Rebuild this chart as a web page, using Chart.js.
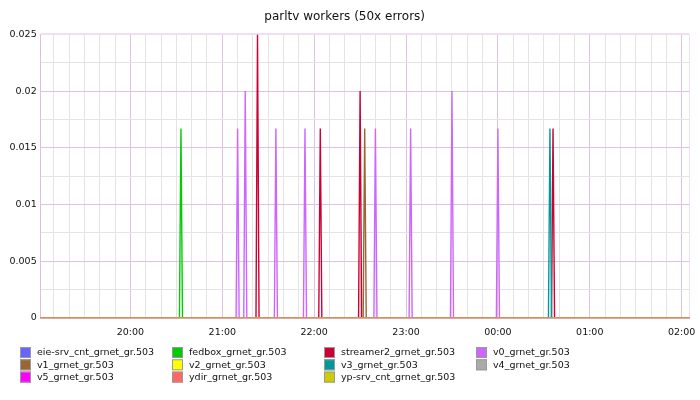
<!DOCTYPE html>
<html>
<head>
<meta charset="utf-8">
<title>parltv workers (50x errors)</title>
<script src="https://cdn.jsdelivr.net/npm/chart.js@4.4.1/dist/chart.umd.min.js"></script>
<style>
    html, body { margin: 0; padding: 0; background: #fff; }
    #wrap { width: 700px; height: 400px; }
</style>
</head>
<body>
<div id="wrap"><canvas id="workers_Chart" width="700" height="400"></canvas></div>
<script>
// series names (legend order)
const seriesNames = [
    'eie-srv_cnt_grnet_gr.503', 'fedbox_grnet_gr.503', 'streamer2_grnet_gr.503', 'v0_grnet_gr.503',
    'v1_grnet_gr.503', 'v2_grnet_gr.503', 'v3_grnet_gr.503', 'v4_grnet_gr.503',
    'v5_grnet_gr.503', 'ydir_grnet_gr.503', 'yp-srv_cnt_grnet_gr.503'
];
const seriesColors = [
    '#6666ff', '#00cc00', '#cc0033', '#cc66ff',
    '#996633', '#ffff00', '#009999', '#aaaaaa',
    '#ff00ff', '#ff6666', '#cccc00'
];

// spikes: time of the peak and its height
const fedboxTimes = ['20:33'];
const fedboxValues = [0.0167];
const streamer2Times = ['21:23', '22:04', '22:30', '00:36'];
const streamer2Values = [0.025, 0.0167, 0.02, 0.0167];
const v0Times = ['21:10', '21:15', '21:35', '21:54', '22:40', '23:03', '23:30', '00:00'];
const v0Values = [0.0167, 0.02, 0.0167, 0.0167, 0.0167, 0.0167, 0.02, 0.0167];
const v1Times = ['22:33'];
const v1Values = [0.0167];
const v3Times = ['00:34'];
const v3Values = [0.0167];

const spikeTimes = [[], fedboxTimes, streamer2Times, v0Times, v1Times, [], v3Times, [], [], [], []];
const spikeValues = [[], fedboxValues, streamer2Values, v0Values, v1Values, [], v3Values, [], [], [], []];

// x axis: minutes after 19:00
const xStart = '19:01';
const xEnd = '02:05';
const yTicks = [0, 0.0025, 0.005, 0.0075, 0.01, 0.0125, 0.015, 0.0175, 0.02, 0.0225, 0.025];

function toMinutes(hhmm) {
    let [h, m] = hhmm.split(':').map(Number);
    if (h < 19) h += 24;
    return (h - 19) * 60 + m;
}

const xMin = toMinutes(xStart) + 0.4;
const xMax = toMinutes(xEnd);

function buildData(times, values) {
    const pts = [{ x: xMin, y: 0 }];
    times.forEach((t, i) => {
        const m = toMinutes(t);
        pts.push({ x: m - 1, y: 0 }, { x: m, y: values[i] }, { x: m + 1, y: 0 });
    });
    pts.push({ x: xMax, y: 0 });
    return pts;
}

const datasets = seriesNames.map((name, i) => ({
    label: name,
    data: buildData(spikeTimes[i], spikeValues[i]),
    borderColor: seriesColors[i],
    backgroundColor: seriesColors[i],
    borderWidth: 1.4,
    pointRadius: 0,
    tension: 0,
    order: seriesNames.length - i
}));

// legend drawn in fixed columns under the plot
const gridLegend = {
    id: 'gridLegend',
    afterDraw(chart) {
        const ctx = chart.ctx;
        ctx.save();
        ctx.font = '9.5px "DejaVu Sans"';
        ctx.textBaseline = 'middle';
        chart.data.datasets.forEach((ds, i) => {
            const x = 20 + (i % 4) * 152;
            const y = 347 + Math.floor(i / 4) * 12.3;
            ctx.fillStyle = ds.borderColor;
            ctx.fillRect(x, y, 11, 11);
            ctx.strokeStyle = '#999';
            ctx.lineWidth = 1;
            ctx.strokeRect(x + 0.5, y + 0.5, 10, 10);
            ctx.fillStyle = '#111';
            ctx.fillText(ds.label, x + 17, y + 6);
        });
        ctx.restore();
    }
};

Chart.defaults.font.family = '"DejaVu Sans", sans-serif';
Chart.defaults.color = '#111';

const ctxWorkers = document.getElementById('workers_Chart').getContext('2d');
new Chart(ctxWorkers, {
    type: 'line',
    data: { datasets: datasets },
    options: {
        responsive: false,
        animation: false,
        layout: { padding: { left: 0, right: 10.7, top: 0, bottom: 0 } },
        plugins: {
            legend: { display: false },
            tooltip: { enabled: false },
            title: {
                display: true,
                text: 'parltv workers (50x errors)',
                color: '#111',
                font: { size: 12, weight: 'normal' },
                padding: { top: 10, bottom: 10 }
            }
        },
        scales: {
            x: {
                type: 'linear',
                min: xMin,
                max: xMax,
                afterBuildTicks: (scale) => {
                    const ticks = [{ value: xMin }];
                    for (let m = 10; m < xMax; m += 10) ticks.push({ value: m });
                    ticks.push({ value: xMax });
                    scale.ticks = ticks;
                },
                afterFit: (scale) => { scale.height = 82; },
                ticks: {
                    autoSkip: false,
                    maxRotation: 0,
                    padding: 9,
                    font: { size: 9.5 },
                    callback: (value) => {
                        if (value % 60 !== 0) return '';
                        const h = (19 + value / 60) % 24;
                        return String(h).padStart(2, '0') + ':00';
                    }
                },
                grid: {
                    drawTicks: false,
                    lineWidth: 1,
                    color: (c) => {
                        const v = c.tick ? c.tick.value : 0;
                        if (v === xMax) return '#f0dff0';
                        if (v === xMin) return '#dcc0dc';
                        return v % 60 === 0 ? '#dec2de' : '#e6e3e6';
                    }
                },
                border: { display: true, color: '#d4905c', width: 1.5, z: 1 }
            },
            y: {
                min: 0,
                max: 0.025,
                afterBuildTicks: (scale) => {
                    scale.ticks = yTicks.map(v => ({ value: v }));
                },
                afterFit: (scale) => { scale.width = 40.7; },
                ticks: {
                    padding: 4,
                    font: { size: 9.5 },
                    callback: (value, index) => {
                        if (index % 2 !== 0) return '';
                        return String(parseFloat(value.toFixed(4)));
                    }
                },
                grid: {
                    drawTicks: false,
                    color: (c) => {
                        if (c.index === yTicks.length - 1) return '#f0dff0';
                        return c.index % 2 === 0 ? '#dec2de' : '#e6e3e6';
                    },
                    lineWidth: (c) => c.index === yTicks.length - 1 ? 2 : 1
                },
                border: { display: true, color: '#dcc0dc' }
            }
        }
    },
    plugins: [gridLegend]
});
</script>
</body>
</html>
